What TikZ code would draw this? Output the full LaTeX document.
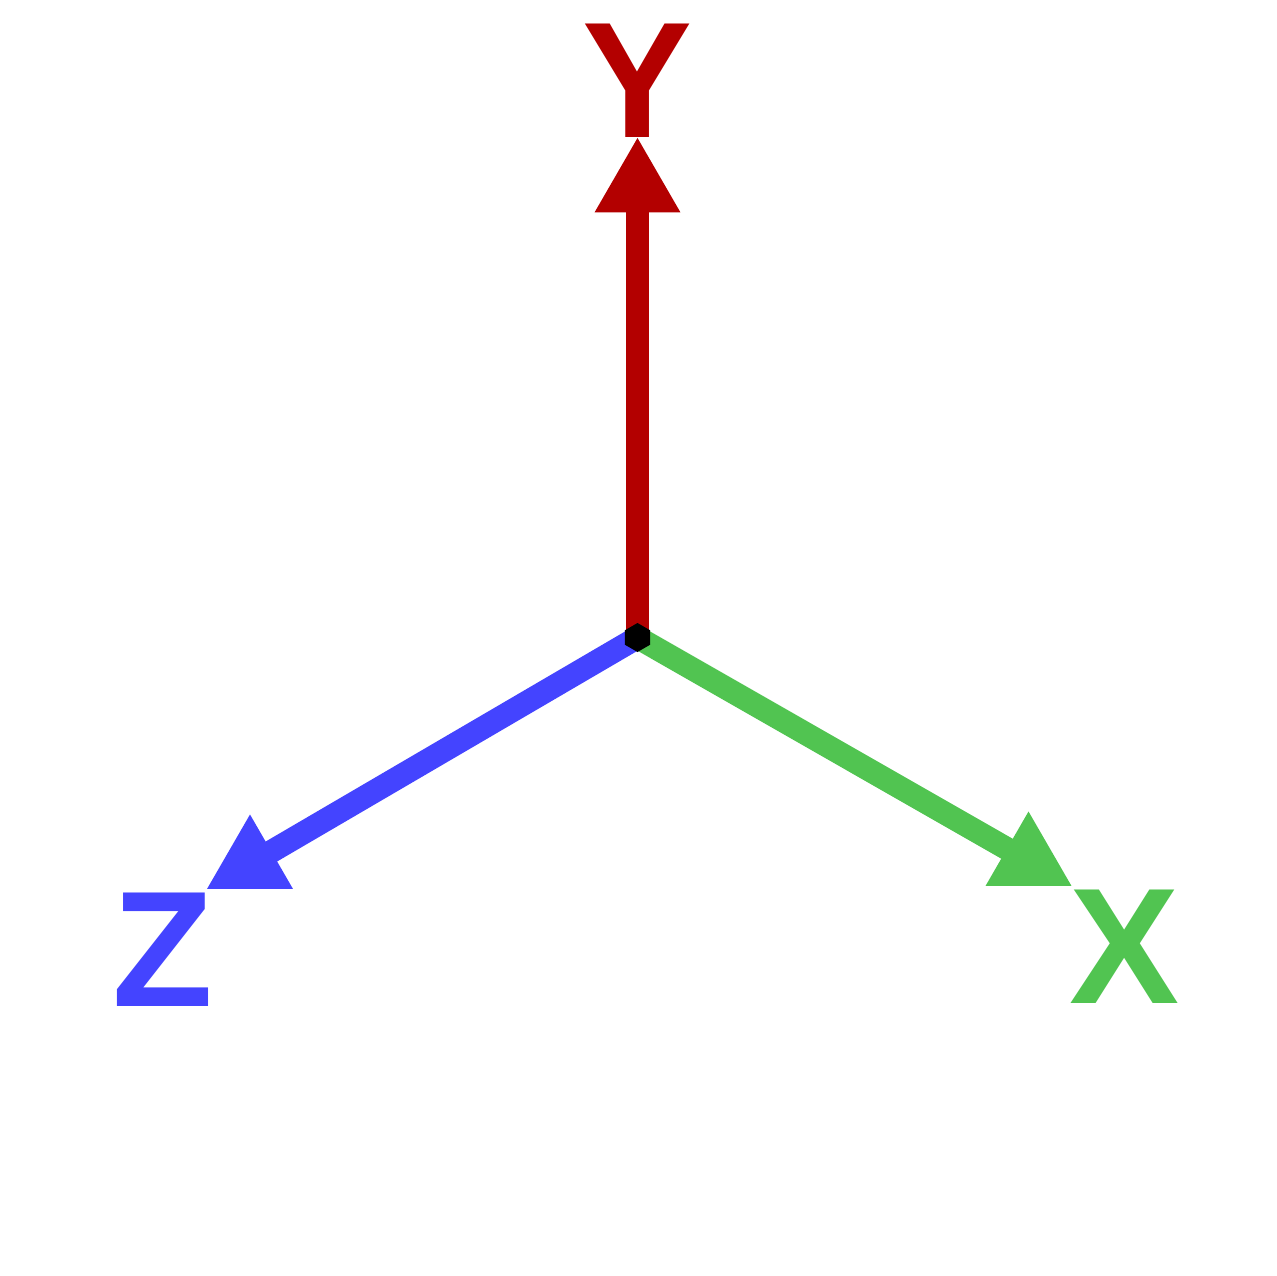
\documentclass[tikz,border=0pt]{standalone}
\usepackage{fontspec}
\setmainfont{Liberation Sans}
\usetikzlibrary{shapes.geometric}
\definecolor{axred}{RGB}{179,0,0}
\definecolor{axgreen}{RGB}{81,196,81}
\definecolor{axblue}{RGB}{68,68,255}
\tikzset{
  axisline/.style={line width=23pt, line cap=butt},
  tip/.style={regular polygon, regular polygon sides=3, minimum size=99pt, inner sep=0pt, outer sep=0pt, fill=#1, draw=none},
  axlabel/.style={anchor=base, inner sep=0pt, outer sep=0pt, text=#1, font=\fontsize{165}{165}\selectfont\bfseries},
  hub/.style={regular polygon, regular polygon sides=6, shape border rotate=30, minimum size=29pt, inner sep=0pt, outer sep=0pt, fill=black, draw=none}
}
\begin{document}
\begin{tikzpicture}[x=1pt,y=-1pt]
\useasboundingbox (0,0) rectangle (1276,1276);
\fill[white] (0,0) rectangle (1276,1276);
% labels
\node[axlabel=axred] (ly) at (638,138) {Y};
\node[axlabel=axblue] (lz) at (163,1006) {Z};
\node[axlabel=axgreen] (lx) at (1125,1003) {X};
% origin and tips as coordinates
\coordinate (o) at (637.5,637.5);
\coordinate (ty) at (637.5,187.5);
\coordinate (tz) at (250,864);
\coordinate (tx) at (1028.5,861);
% axis lines
\draw[axisline, axred] (o) -- (ty);
\draw[axisline, axblue] (o) -- (tz);
\draw[axisline, axgreen] (o) -- (tx);
% arrowheads (upright triangles)
\node[tip=axred] (hy) at (ty) {};
\node[tip=axblue] (hz) at (tz) {};
\node[tip=axgreen] (hx) at (tx) {};
% hub
\node[hub] (h) at (o) {};
\end{tikzpicture}
\end{document}
